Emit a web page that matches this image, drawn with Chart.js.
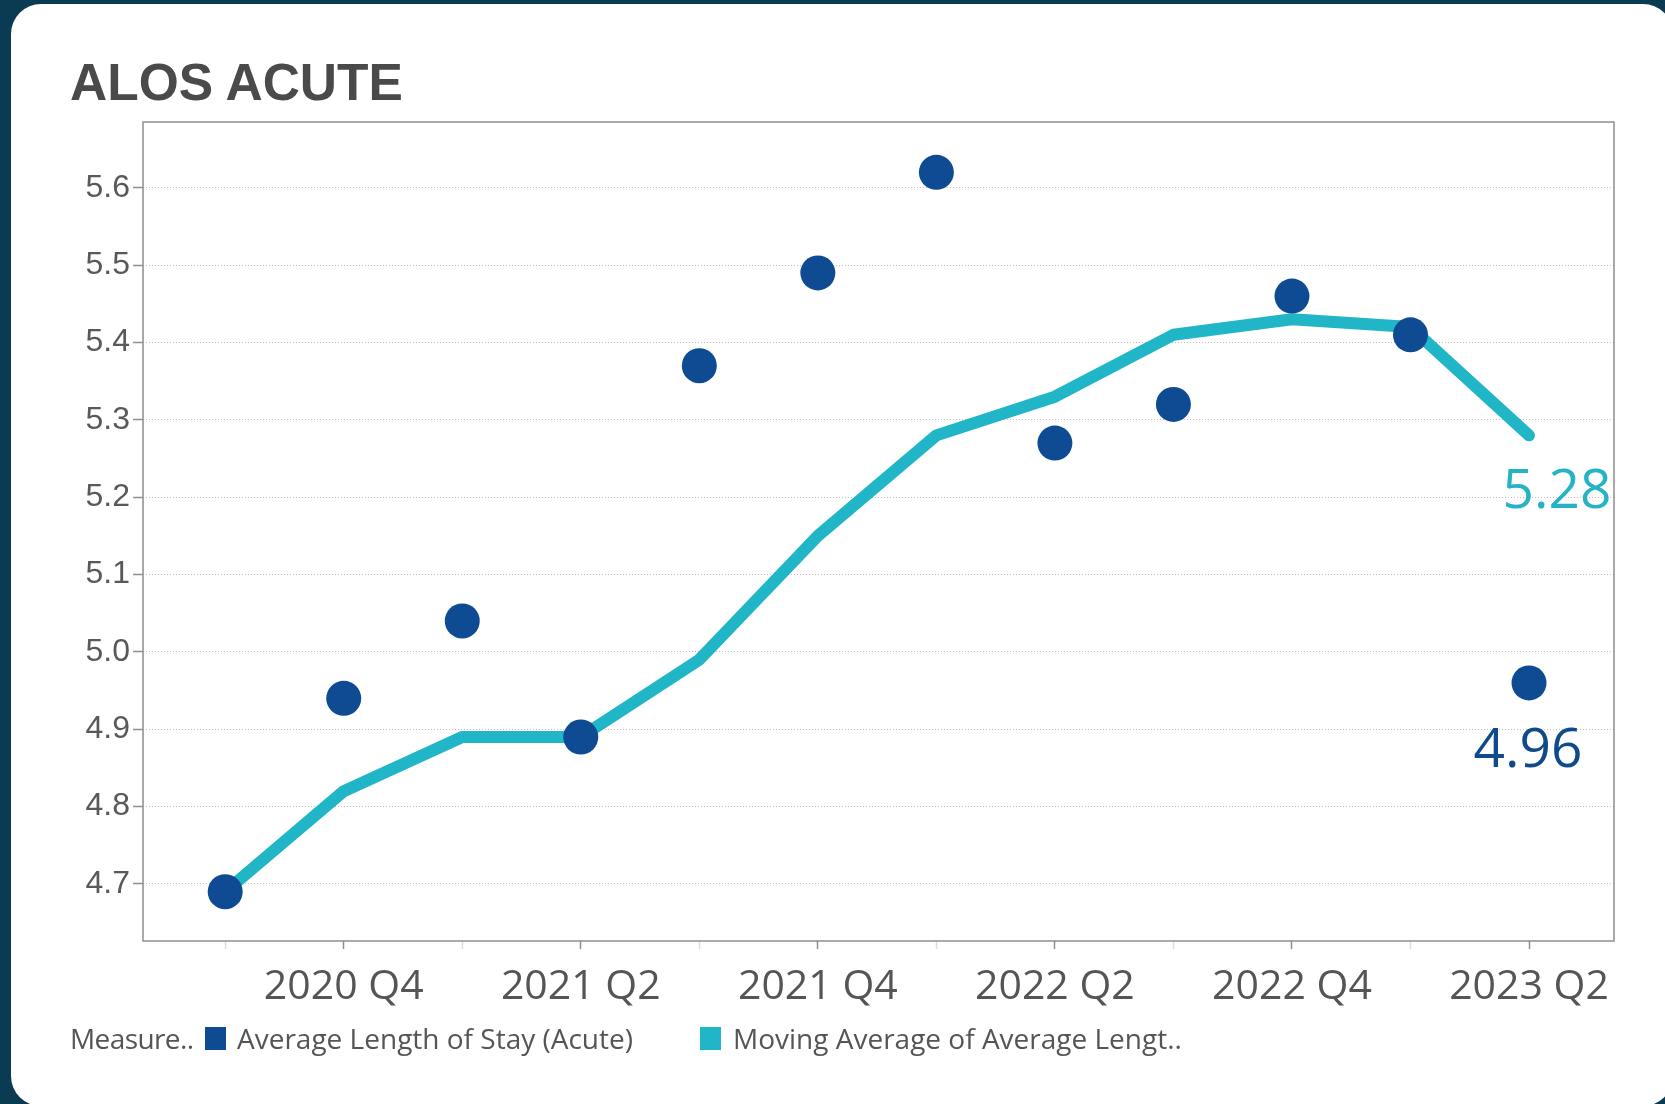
<!DOCTYPE html>
<html>
<head>
<meta charset="utf-8">
<script src="https://cdn.jsdelivr.net/npm/chart.js@4.4.0/dist/chart.umd.min.js"></script>
<style>
  html, body { margin:0; padding:0; width:1665px; height:1104px; overflow:hidden; background:#0b3b53; }
  #card { position:absolute; left:11px; top:4px; width:1662px; height:1102px; background:#ffffff; border-radius:30px; }
  #title { position:absolute; left:70px; top:57px; font:bold 51.5px "Liberation Sans", Arial, sans-serif; line-height:51px; color:#4a4a4a; white-space:nowrap; }
  canvas { position:absolute; left:0; top:0; }
  .lg { position:absolute; top:1024px; font:28px "Open Sans", sans-serif; line-height:28px; color:#555555; white-space:nowrap; }
  .sq { position:absolute; top:1027px; width:21px; height:23px; }
</style>
</head>
<body>
<div id="card"></div>
<div id="title">ALOS ACUTE</div>
<canvas id="c" width="1665" height="1104"></canvas>
<div class="lg" style="left:70px;letter-spacing:-0.6px">Measure..</div>
<div class="sq" style="left:205px;background:#0e4b93"></div>
<div class="lg" style="left:237px">Average Length of Stay (Acute)</div>
<div class="sq" style="left:700px;background:#20b6c8"></div>
<div class="lg" style="left:733px">Moving Average of Average Lengt..</div>
<script>
const quarters = ['2020 Q3','2020 Q4','2021 Q1','2021 Q2','2021 Q3','2021 Q4','2022 Q1','2022 Q2','2022 Q3','2022 Q4','2023 Q1','2023 Q2'];
const xTickLabels = ['','2020 Q4','','2021 Q2','','2021 Q4','','2022 Q2','','2022 Q4','','2023 Q2'];
const alosValues = [4.69, 4.94, 5.04, 4.89, 5.37, 5.49, 5.62, 5.27, 5.32, 5.46, 5.41, 4.96];
const movingAvgValues = [4.69, 4.82, 4.89, 4.89, 4.99, 5.15, 5.28, 5.33, 5.41, 5.43, 5.42, 5.28];
const yTicks = [4.7, 4.8, 4.9, 5.0, 5.1, 5.2, 5.3, 5.4, 5.5, 5.6];
const seriesNames = ['Average Length of Stay (Acute)', 'Moving Average of Average Length of Stay'];

const DOT = '#0e4b93', LINE = '#20b6c8';

const extras = {
  id: 'extras',
  beforeDatasetsDraw(chart) {
    const a = chart.chartArea, ctx = chart.ctx;
    ctx.save();
    ctx.strokeStyle = '#8f8f8f';
    ctx.lineWidth = 1.5;
    ctx.strokeRect(a.left, a.top, a.right - a.left, a.bottom - a.top);
    ctx.restore();
  },
  afterDatasetsDraw(chart) {
    const ctx = chart.ctx;
    ctx.save();
    ctx.font = '55px "Open Sans", sans-serif';
    ctx.textAlign = 'center';
    ctx.textBaseline = 'middle';
    const mLine = chart.getDatasetMeta(1);
    const pL = mLine.data[mLine.data.length - 1];
    ctx.fillStyle = '#26b3c5';
    ctx.fillText(movingAvgValues[movingAvgValues.length - 1].toFixed(2), pL.x + 28, pL.y + 57);
    const mDot = chart.getDatasetMeta(0);
    const pD = mDot.data[mDot.data.length - 1];
    ctx.fillStyle = '#0f4a8c';
    ctx.fillText(alosValues[alosValues.length - 1].toFixed(2), pD.x - 1, pD.y + 68);
    ctx.restore();
  }
};

new Chart(document.getElementById('c'), {
  type: 'line',
  data: {
    datasets: [
      {
        label: seriesNames[0],
        data: alosValues.map((v, i) => ({ x: i, y: v })),
        showLine: false,
        pointRadius: 17.5,
        pointBackgroundColor: DOT,
        pointBorderWidth: 0,
        borderColor: DOT,
        backgroundColor: DOT
      },
      {
        label: seriesNames[1],
        data: movingAvgValues.map((v, i) => ({ x: i, y: v })),
        borderColor: LINE,
        borderWidth: 12,
        pointRadius: 0,
        borderCapStyle: 'round',
        borderJoinStyle: 'round',
        tension: 0,
        fill: false
      }
    ]
  },
  options: {
    responsive: false,
    animation: false,
    devicePixelRatio: 1,
    layout: { padding: { left: 63, right: 51, top: 122, bottom: 93 } },
    plugins: { legend: { display: false }, title: { display: false }, tooltip: { enabled: false } },
    scales: {
      x: {
        type: 'linear',
        min: -0.6935,
        max: 11.717,
        afterBuildTicks: (s) => { s.ticks = quarters.map((q, i) => ({ value: i })); },
        afterFit: (s) => { s.height = 70; },
        ticks: {
          autoSkip: false,
          maxRotation: 0,
          padding: 14,
          color: '#555555',
          font: { family: '"Open Sans", sans-serif', size: 41 },
          callback: (v, idx) => xTickLabels[idx]
        },
        grid: {
          drawOnChartArea: false,
          drawTicks: true,
          tickLength: 8,
          tickWidth: 1.5,
          tickColor: (ctx) => (xTickLabels[ctx.index] ? '#8f8f8f' : '#dcdcdc')
        },
        border: { display: false }
      },
      y: {
        type: 'linear',
        min: 4.6263,
        max: 5.6851,
        afterBuildTicks: (s) => { s.ticks = yTicks.map(v => ({ value: v })); },
        afterFit: (s) => { s.width = 80; },
        ticks: {
          padding: 3,
          color: '#595959',
          font: { family: '"Liberation Sans", Arial, sans-serif', size: 32 },
          callback: (v) => Number(v).toFixed(1)
        },
        grid: {
          color: '#bdbdbd',
          lineWidth: 1,
          tickLength: 10,
          tickColor: '#8f8f8f',
          tickWidth: 1.5
        },
        border: { display: false, dash: [1, 2] }
      }
    }
  },
  plugins: [extras]
});
</script>
</body>
</html>
